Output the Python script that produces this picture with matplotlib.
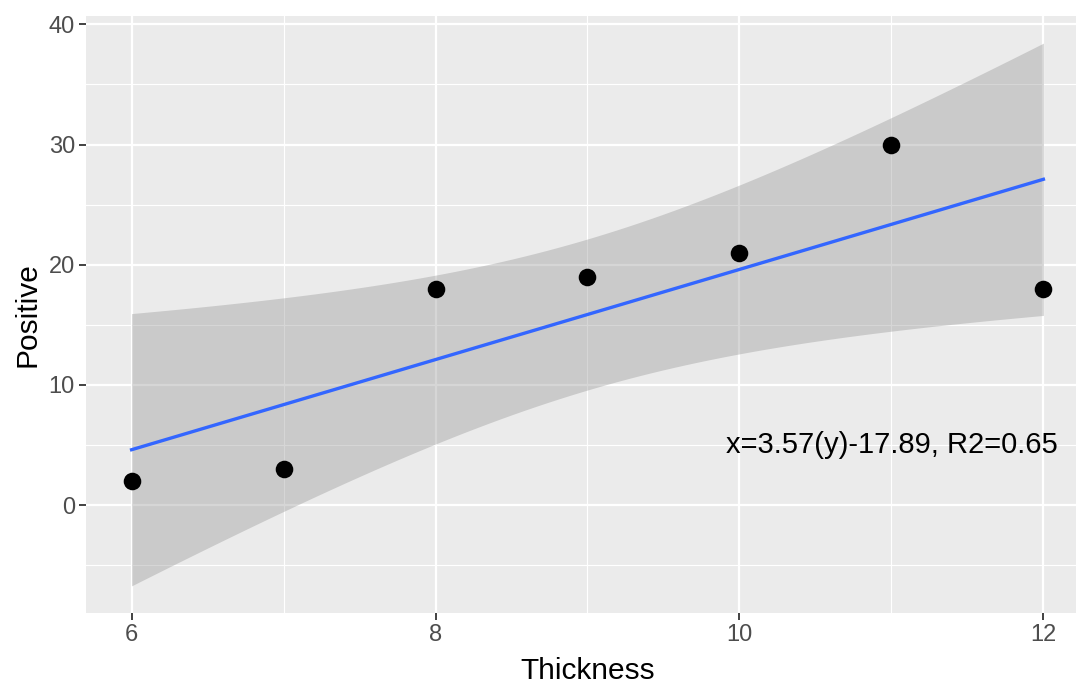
import numpy as np
import matplotlib
matplotlib.use('Agg')
import matplotlib.pyplot as plt

plt.rcParams['font.family'] = ['Liberation Sans', 'DejaVu Sans']

# data
thickness = [6, 7, 8, 9, 10, 11, 12]
positive = [2, 3, 18, 19, 21, 30, 18]
label = 'x=3.57(y)-17.89, R2=0.65'
label_x, label_y = 11, 5
x_ticks = [6, 8, 10, 12]
y_ticks = [0, 10, 20, 30, 40]

# linear fit with 95% confidence band (like geom_smooth(method='lm'))
x = np.array(thickness, dtype=float)
y = np.array(positive, dtype=float)
n = len(x)
slope, intercept = np.polyfit(x, y, 1)
resid = y - (slope * x + intercept)
s = np.sqrt(np.sum(resid ** 2) / (n - 2))
t_crit = 2.5706  # t(0.975, df=5)
xs = np.linspace(x.min(), x.max(), 80)
fit = slope * xs + intercept
se = s * np.sqrt(1 / n + (xs - x.mean()) ** 2 / np.sum((x - x.mean()) ** 2))
lo, hi = fit - t_crit * se, fit + t_crit * se

fig = plt.figure(figsize=(10.76, 6.84), dpi=100)
ax = fig.add_axes([86 / 1076, 71 / 684, 1003 / 1076, 597 / 684])
ax.set_facecolor('#EBEBEB')

ax.set_xticks([7, 9, 11], minor=True)
ax.set_yticks([-5, 5, 15, 25, 35], minor=True)
ax.set_xticks(x_ticks)
ax.set_yticks(y_ticks)
ax.grid(which='major', color='white', linewidth=1.6)
ax.grid(which='minor', color='white', linewidth=0.8)
ax.set_axisbelow(True)

ax.fill_between(xs, lo, hi, color='#999999', alpha=0.4, linewidth=0, zorder=2)
ax.plot(xs, fit, color='#3366FF', linewidth=2.4, zorder=3)
ax.scatter(thickness, positive, s=160, color='black', zorder=4, linewidths=0)
ax.text(label_x, label_y, label, ha='center', va='center', fontsize=21, color='black', zorder=5)

xr = x.max() - x.min()
ax.set_xlim(x.min() - 0.05 * xr, x.max() + 0.05 * xr)
ymin, ymax = lo.min(), hi.max()
yr = ymax - ymin
ax.set_ylim(ymin - 0.05 * yr, ymax + 0.05 * yr)

for sp in ax.spines.values():
    sp.set_visible(False)
ax.tick_params(which='major', length=5, width=1.3, color='#333333',
               labelsize=17, labelcolor='#4D4D4D', pad=3)
ax.tick_params(which='minor', length=0)

ax.set_xlabel('Thickness', fontsize=21.5, color='black', labelpad=8)
ax.set_ylabel('Positive', fontsize=21.5, color='black', labelpad=5)

fig.savefig('out.png', dpi=100)
